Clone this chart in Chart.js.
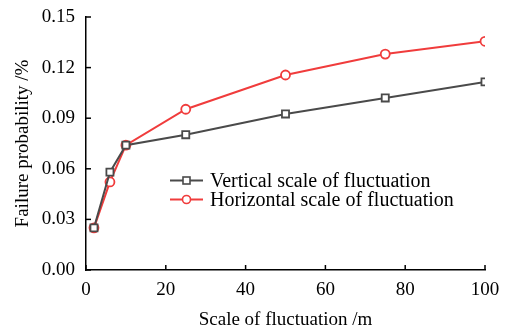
<!DOCTYPE html>
<html>
<head>
<meta charset="utf-8">
<script src="https://cdn.jsdelivr.net/npm/chart.js@4.4.0/dist/chart.umd.min.js"></script>
<style>
  html, body { margin: 0; padding: 0; background: #fff; }
  #wrap { width: 506px; height: 331px; }
</style>
</head>
<body>
<div id="wrap"><canvas id="grafico" width="506" height="331"></canvas></div>
<script>
const escalas = [2, 6, 10, 25, 50, 75, 100];
const vertical = [0.025, 0.058, 0.074, 0.0802, 0.0925, 0.102, 0.1115];
const horizontal = [0.025, 0.0522, 0.074, 0.0953, 0.1156, 0.128, 0.1356];
const rotulos = ['Vertical scale of fluctuation', 'Horizontal scale of fluctuation'];
const yTicks = [0, 0.03, 0.06, 0.09, 0.12, 0.15];
const xTicks = [0, 20, 40, 60, 80, 100];

const fonte = '"Liberation Serif", "Times New Roman", serif';
const cinza = '#4a4a4a';
const vermelho = '#f03c3c';

// ticks para dentro + legenda dentro do gráfico
const extras = {
  id: 'extras',
  afterDraw(chart) {
    const ctx = chart.ctx;
    const xs = chart.scales.x, ys = chart.scales.y;
    const a = chart.chartArea;
    ctx.save();
    ctx.strokeStyle = '#000';
    ctx.lineWidth = 1.5;
    xTicks.forEach(v => {
      const px = xs.getPixelForValue(v);
      ctx.beginPath(); ctx.moveTo(px, a.bottom); ctx.lineTo(px, a.bottom - 5); ctx.stroke();
    });
    yTicks.forEach(v => {
      const py = ys.getPixelForValue(v);
      ctx.beginPath(); ctx.moveTo(a.left, py); ctx.lineTo(a.left + 5, py); ctx.stroke();
    });

    // legenda
    const lx = 170, ly = [180.5, 199.5];
    const cores = [cinza, vermelho];
    ctx.font = '20px ' + fonte;
    ctx.textBaseline = 'middle';
    rotulos.forEach((txt, i) => {
      ctx.strokeStyle = cores[i];
      ctx.lineWidth = 1.8;
      ctx.beginPath(); ctx.moveTo(lx, ly[i]); ctx.lineTo(lx + 33, ly[i]); ctx.stroke();
      ctx.fillStyle = '#fff';
      ctx.lineWidth = 1.6;
      if (i === 0) {
        ctx.fillRect(lx + 13, ly[i] - 3.5, 7, 7);
        ctx.strokeRect(lx + 13, ly[i] - 3.5, 7, 7);
      } else {
        ctx.beginPath(); ctx.arc(lx + 16.5, ly[i], 4, 0, Math.PI * 2); ctx.fill(); ctx.stroke();
      }
      ctx.fillStyle = '#000';
      ctx.fillText(txt, lx + 40, ly[i] + 1);
    });
    ctx.restore();
  }
};

new Chart(document.getElementById('grafico'), {
  type: 'line',
  data: {
    datasets: [
      {
        label: rotulos[0],
        data: escalas.map((x, i) => ({ x: x, y: vertical[i] })),
        borderColor: cinza,
        borderWidth: 2,
        pointStyle: 'rect',
        pointRadius: 5,
        pointBorderWidth: 1.8,
        pointBackgroundColor: '#fff',
        pointBorderColor: cinza,
        tension: 0
      },
      {
        label: rotulos[1],
        data: escalas.map((x, i) => ({ x: x, y: horizontal[i] })),
        borderColor: vermelho,
        borderWidth: 2,
        pointStyle: 'circle',
        pointRadius: 4.5,
        pointBorderWidth: 1.8,
        pointBackgroundColor: '#fff',
        pointBorderColor: vermelho,
        tension: 0
      }
    ]
  },
  options: {
    responsive: false,
    animation: false,
    layout: { padding: { top: 17, right: 21, left: 0, bottom: 0 } },
    plugins: {
      legend: { display: false },
      tooltip: { enabled: false }
    },
    scales: {
      x: {
        type: 'linear',
        min: 0, max: 100,
        afterFit: s => { s.height = 61; s.paddingLeft = 0; s.paddingRight = 0; },
        afterBuildTicks: s => { s.ticks = xTicks.map(v => ({ value: v })); },
        grid: { drawOnChartArea: false, drawTicks: false },
        border: { color: '#000', width: 1.5 },
        ticks: {
          color: '#000',
          padding: 9,
          font: { family: fonte, size: 19 },
          maxRotation: 0
        },
        title: {
          display: true,
          text: 'Scale of fluctuation /m',
          color: '#000',
          font: { family: fonte, size: 19 },
          padding: { top: 4, bottom: 0 }
        }
      },
      y: {
        type: 'linear',
        min: 0, max: 0.15,
        afterFit: s => { s.width = 86; s.paddingTop = 0; s.paddingBottom = 0; },
        afterBuildTicks: s => { s.ticks = yTicks.map(v => ({ value: v })); },
        grid: { drawOnChartArea: false, drawTicks: false },
        border: { color: '#000', width: 1.5 },
        ticks: {
          color: '#000',
          padding: 11,
          font: { family: fonte, size: 19 },
          callback: v => v.toFixed(2)
        },
        title: {
          display: true,
          text: 'Failure probability /%',
          color: '#000',
          font: { family: fonte, size: 19 },
          padding: { top: 12, bottom: 0 }
        }
      }
    }
  },
  plugins: [extras]
});
</script>
</body>
</html>
